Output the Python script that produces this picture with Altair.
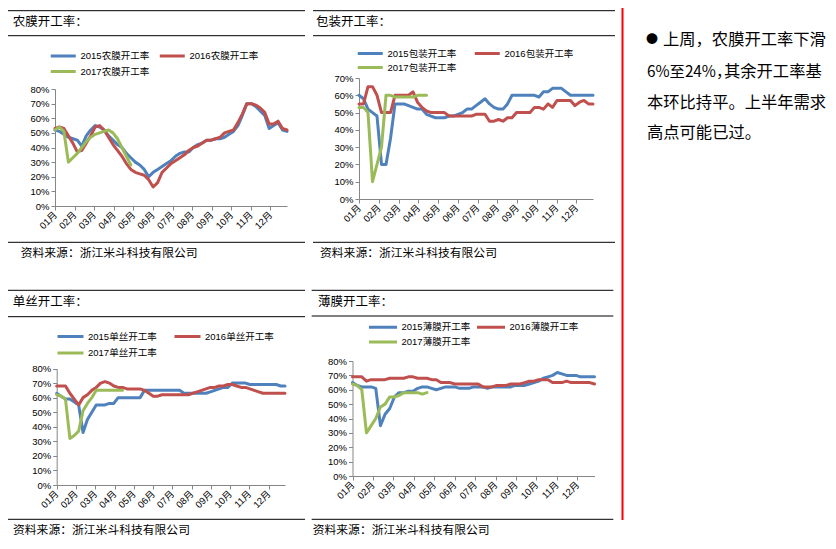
import altair as alt
import pandas as pd

W, H = 820, 530
COLORS = ["#4F81BD", "#C0504D", "#9BBB59"]
LAT = "Liberation Sans, Noto Sans CJK SC"
CJK = "Noto Sans CJK SC"

month_labels = ["01月", "02月", "03月", "04月", "05月", "06月",
                "07月", "08月", "09月", "10月", "11月", "12月"]
month_ticks = [0, 4.39, 8.78, 13.17, 17.56, 21.95, 26.34, 30.73, 35.12, 39.51, 43.9, 48.29]

# ---- 农膜 ----
nm_names = ["2015农膜开工率", "2016农膜开工率", "2017农膜开工率"]
nm_2015 = [52, 51, 49, 47, 46, 45, 41, 48, 52, 55, 54, 52, 48, 45, 42, 40, 36, 33, 30, 28,
           25, 20, 23, 25, 27, 29, 31, 34, 36, 37, 37, 40, 42, 43, 45, 45, 46, 46, 47, 49,
           51, 55, 62, 70, 70, 68, 65, 62, 53, 55, 57, 52, 51]
nm_2016 = [53, 54, 53, 48, 43, 37, 38, 43, 48, 54, 55, 52, 47, 42, 38, 34, 29, 25, 23, 22,
           21, 18, 13, 16, 23, 26, 29, 31, 33, 35, 38, 40, 41, 43, 45, 45, 46, 47, 50, 51,
           52, 57, 63, 70, 70, 69, 67, 64, 56, 56, 58, 53, 52]
nm_2017 = [52, 54, 51, 30, 33, 36, 40, 44, 47, 49, 50, 51, 52, 50, 46, 40, 34, 28]

# ---- 包装 ----
bz_names = ["2015包装开工率", "2016包装开工率", "2017包装开工率"]
bz_2015 = [60, 58, 52, 50, 48, 20, 20, 35, 55, 55, 55, 54, 53, 52, 52, 49, 48, 47, 47, 47,
           48, 48, 49, 50, 52, 52, 54, 56, 58, 55, 53, 52, 52, 55, 60, 60, 60, 60, 60, 60,
           59, 62, 62, 64, 64, 64, 62, 60, 60, 60, 60, 60, 60]
bz_2016 = [55, 55, 65, 65, 60, 50, 50, 50, 60, 60, 60, 60, 62, 56, 53, 51, 50, 50, 50, 50,
           48, 48, 48, 48, 48, 48, 49, 49, 49, 45, 45, 46, 45, 47, 47, 50, 50, 50, 50, 53,
           53, 52, 55, 53, 57, 57, 57, 57, 54, 56, 57, 55, 55]
bz_2017 = [53, 53, 50, 10, 20, 30, 60, 60, 59, 59, 59, 59, 59, 60, 60, 60]

# ---- 单丝 ----
ds_names = ["2015单丝开工率", "2016单丝开工率", "2017单丝开工率"]
ds_2015 = [63, 61, 59, 59, 57, 55, 36, 45, 50, 55, 55, 55, 56, 56, 60, 60, 60, 60, 60, 60,
           65, 65, 65, 65, 65, 65, 65, 65, 65, 63, 63, 63, 63, 63, 63, 64, 65, 66, 67, 67,
           70, 70, 70, 70, 69, 69, 69, 69, 69, 69, 69, 68, 68]
ds_2016 = [68, 68, 68, 63, 59, 55, 60, 62, 65, 67, 70, 71, 70, 68, 67, 67, 66, 66, 66, 66,
           65, 63, 61, 61, 62, 62, 62, 62, 62, 62, 62, 63, 64, 65, 66, 67, 67, 68, 68, 69,
           69, 68, 67, 67, 66, 65, 64, 63, 63, 63, 63, 63, 63]
ds_2017 = [62, 61, 59, 32, 34, 37, 51, 56, 60, 65, 65, 65, 65, 65, 65, 65]

# ---- 薄膜 ----
bm_names = ["2015薄膜开工率", "2016薄膜开工率", "2017薄膜开工率"]
bm_2015 = [65, 63, 62, 62, 62, 61, 35, 43, 47, 55, 58, 58, 59, 59, 61, 62, 62, 61, 60, 61,
           62, 62, 62, 61, 61, 61, 62, 62, 62, 61, 62, 62, 62, 62, 62, 63, 63, 63, 64, 65,
           66, 68, 69, 70, 72, 71, 70, 70, 70, 69, 69, 69, 69]
bm_2016 = [69, 69, 69, 66, 67, 67, 67, 67, 68, 68, 68, 68, 69, 69, 68, 68, 68, 67, 67, 65,
           65, 65, 64, 64, 64, 64, 64, 64, 62, 62, 62, 63, 63, 63, 64, 64, 64, 65, 66, 66,
           67, 67, 67, 65, 65, 65, 66, 65, 65, 65, 65, 65, 64]
bm_2017 = [64, 63, 60, 30, 35, 40, 48, 50, 55, 55, 56, 58, 58, 58, 58, 57, 58]

panel_titles = ["农膜开工率：", "包装开工率：", "单丝开工率：", "薄膜开工率："]
source_text = "资料来源：浙江米斗科技有限公司"
note_lines = ["上周，农膜开工率下滑", "6%至24%，", "其余开工率基", "本环比持平。上半年需求", "高点可能已过。"]


def long_df(names, series):
    rows = []
    for n, s in zip(names, series):
        for i, v in enumerate(s):
            rows.append({"week": i, "value": v, "series": n})
    return pd.DataFrame(rows)


label_expr = "[" + ",".join("'%s'" % m for m in month_labels) + "][round(datum.value / 4.39)]"


def panel(names, series, xr, yr, ymax, leg):
    df = long_df(names, series)
    half = leg[2] / 2.0
    return alt.Chart(df).mark_line(strokeWidth=3, strokeJoin="round", strokeCap="round").encode(
        x=alt.X("week:Q",
                scale=alt.Scale(domain=[0, 52], range=xr, nice=False, zero=False),
                axis=alt.Axis(orient="bottom", offset=yr[0] - H, values=month_ticks,
                              labelExpr=label_expr, labelAngle=315, labelAlign="right",
                              labelBaseline="middle", labelOverlap=False, labelFlush=False,
                              labelBound=False, title=None, tickSize=4, labelPadding=3,
                              grid=False)),
        y=alt.Y("value:Q",
                scale=alt.Scale(domain=[0, ymax], range=yr, nice=False, zero=True),
                axis=alt.Axis(orient="left", offset=-xr[0], values=list(range(0, ymax + 1, 10)),
                              labelExpr="datum.value + '%'", title=None, tickSize=4,
                              labelPadding=2, grid=False)),
        color=alt.Color("series:N",
                        scale=alt.Scale(domain=names, range=COLORS),
                        legend=alt.Legend(orient="none", legendX=leg[0], legendY=leg[1],
                                          columns=2, direction="horizontal", title=None,
                                          symbolType="M-1,0H3", symbolSize=half ** 2,
                                          symbolStrokeWidth=3, labelFontSize=9.5,
                                          labelFont=LAT, labelColor="#000",
                                          labelOffset=half + 3,
                                          columnPadding=leg[3], rowPadding=leg[4], padding=0)),
    )


dummy = pd.DataFrame({"d": [0]})


def txt(s, x, y, size, align="left", font=CJK, color="#000"):
    return alt.Chart(dummy).mark_text(text=s, align=align, baseline="middle", fontSize=size,
                                      font=font, color=color).encode(x=alt.value(x), y=alt.value(y))


def hrule(x1, x2, y, color="#000", w=1):
    return alt.Chart(dummy).mark_rule(color=color, strokeWidth=w).encode(
        x=alt.value(x1), x2=alt.value(x2), y=alt.value(y))


p1 = panel(nm_names, [nm_2015, nm_2016, nm_2017], [47, 279], [198, 81], 80, (41, 40, 25, 3, 1.5))
p2 = panel(bz_names, [bz_2015, bz_2016, bz_2017], [351, 585], [191, 70], 70, (348, 37.5, 25, 11, 0))
p3 = panel(ds_names, [ds_2015, ds_2016, ds_2017], [48.7, 277], [477, 360.5], 80, (48, 320.5, 26, 11, 2.5))
p4 = panel(bm_names, [bm_2015, bm_2016, bm_2017], [344.5, 586.5], [468, 353], 80, (359.5, 310.5, 28, 0, 0))

decor = [
    hrule(0, 297, 2.7), hrule(0, 297, 27.7), hrule(0, 297, 234.3),
    hrule(305, 607, 2.7), hrule(305, 607, 27.7), hrule(305, 607, 234.3),
    hrule(0, 297, 282.3), hrule(0, 297, 308.7), hrule(0, 297, 511.3),
    hrule(303.7, 605.3, 282.3), hrule(303.7, 605.3, 308), hrule(303.7, 605.3, 511.3),
    alt.Chart(dummy).mark_rule(color="#FF0000", strokeWidth=2).encode(
        x=alt.value(614.5), y=alt.value(0), y2=alt.value(512)),
    txt(panel_titles[0], 4.7, 13.5, 12.5),
    txt(panel_titles[1], 308, 13.5, 12.5),
    txt(panel_titles[2], 4.7, 293.5, 12.5),
    txt(panel_titles[3], 310, 293.5, 12.5),
    txt(source_text, 12.7, 245, 11.8),
    txt(source_text, 312, 245, 11.8),
    txt(source_text, 5, 522, 11.8),
    txt(source_text, 304.7, 522, 11.8),
    txt("●", 644, 32, 12, align="center"),
    txt(note_lines[0], 655, 32, 16.3),
    txt(note_lines[1], 639, 64, 15.3),
    txt(note_lines[2], 716, 64, 16.3),
    txt(note_lines[3], 639, 94.5, 16.3),
    txt(note_lines[4], 639, 125, 16.3),
]

chart = alt.layer(p1, p2, p3, p4, *decor).resolve_scale(
    x="independent", y="independent", color="independent"
).properties(
    width=W, height=H, padding=0, autosize=alt.AutoSizeParams(type="none")
).configure_view(strokeWidth=0).configure_axis(
    domainColor="#868686", tickColor="#868686", labelColor="#000", labelFont=LAT,
    labelFontSize=9.5
)

chart.save("out.html", embed_options={"renderer": "svg", "actions": False})
